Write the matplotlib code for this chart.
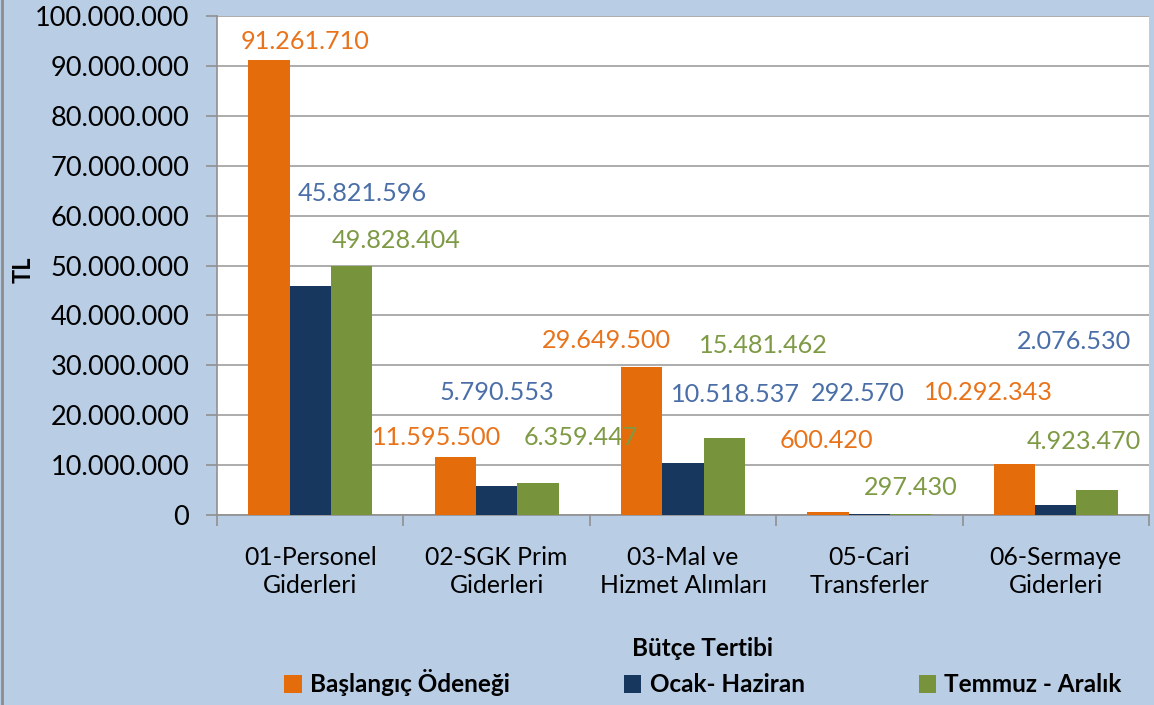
import numpy as np
import matplotlib.pyplot as plt
from matplotlib.lines import Line2D

categories = ["01-Personel\nGiderleri", "02-SGK Prim\nGiderleri", "03-Mal ve\nHizmet Alımları",
              "05-Cari\nTransferler", "06-Sermaye\nGiderleri"]
series_names = ["Başlangıç Ödeneği", "Ocak- Haziran", "Temmuz - Aralık"]
baslangic = [91261710, 11595500, 29649500, 600420, 10292343]
ocak_haziran = [45821596, 5790553, 10518537, 292570, 2076530]
temmuz_aralik = [49828404, 6359447, 15481462, 297430, 4923470]

bar_colors = ["#E46C0A", "#17375E", "#77933C"]
label_colors = ["#E8731A", "#4A6EA8", "#7E9A45"]

# hand-placed label positions (x offset from group centre, y in millions), like the original
label_dx = [[-0.03, -0.32, -0.41, -0.23, -0.36],
            [0.28, 0.00, 0.28, -0.06, 0.10],
            [0.46, 0.45, 0.43, 0.22, 0.15]]
label_y = [[94.8, 15.6, 34.9, 15.0, 24.6],
           [64.5, 24.6, 24.2, 24.4, 34.7],
           [55.1, 15.6, 33.9, 5.6, 14.8]]

plt.rcParams['font.family'] = ['Lato', 'DejaVu Sans']

fig = plt.figure(figsize=(11.54, 7.05), dpi=100)
fig.patch.set_facecolor("#B9CDE5")
ax = fig.add_axes([217 / 1154, 1 - 515 / 705, 932 / 1154, 499 / 705])
ax.set_facecolor("white")

x = np.arange(len(categories))
w = 0.222
all_series = [baslangic, ocak_haziran, temmuz_aralik]
for k, vals in enumerate(all_series):
    ax.bar(x + (k - 1) * w, vals, w, color=bar_colors[k], label=series_names[k], zorder=3)
    for i, v in enumerate(vals):
        ax.text(i + label_dx[k][i], label_y[k][i] * 1e6, f"{v:,}".replace(",", "."),
                color=label_colors[k], fontsize=18.2, ha="center", va="center", zorder=4)

ax.set_xlim(-0.5, len(categories) - 0.5)
ax.set_ylim(0, 100e6)
ax.set_yticks(np.arange(0, 100e6 + 1, 10e6))
ax.set_yticklabels([f"{int(t):,}".replace(",", ".") for t in np.arange(0, 100e6 + 1, 10e6)])
ax.yaxis.grid(True, color="#A6A6A6", linewidth=1.3, zorder=0)

ax.set_xticks(x)
ax.set_xticklabels(categories, fontsize=17.8, linespacing=1.3)
ax.set_xticks(np.arange(-0.5, len(categories)), minor=True)
ax.tick_params(axis="x", which="major", length=0, pad=22)
ax.tick_params(axis="x", which="minor", length=8, color="#909090", width=1.2)
ax.tick_params(axis="y", length=8, color="#909090", width=1.2, labelsize=19.5, pad=12)

for side in ["top", "right"]:
    ax.spines[side].set_visible(False)
for side in ["left", "bottom"]:
    ax.spines[side].set_color("#909090")
    ax.spines[side].set_linewidth(1.2)

ax.set_ylabel("TL", fontsize=17, fontweight="bold")
ax.yaxis.set_label_coords(-0.196, 0.491)
ax.set_xlabel("Bütçe Tertibi", fontsize=17.5, fontweight="bold")
ax.xaxis.set_label_coords(0.521, -0.2445)

fig.legend(loc="center", bbox_to_anchor=(703 / 1154, 1 - 683 / 705), ncol=3, frameon=False,
           prop={"size": 17.5, "weight": "bold"}, handlelength=0.72, handleheight=0.72,
           handletextpad=0.33, columnspacing=4.7)

fig.add_artist(Line2D([0.0015, 0.0015], [0, 1], color="#8C8C8C", linewidth=2, transform=fig.transFigure))

fig.savefig("out.png", dpi=100, facecolor=fig.get_facecolor())
